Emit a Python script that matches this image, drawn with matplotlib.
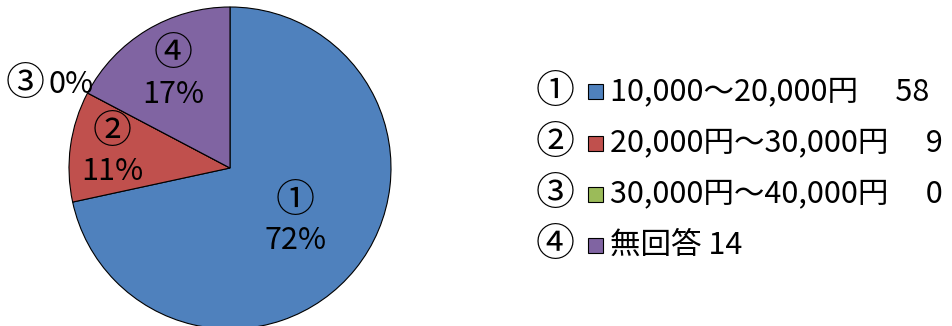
import numpy as np
import matplotlib
matplotlib.use("Agg")
import matplotlib.pyplot as plt
from matplotlib.patches import Rectangle

plt.rcParams['font.family'] = ['Noto Sans CJK JP', 'DejaVu Sans']

# 回答データ
marks = ["①", "②", "③", "④"]
categories = ["10,000～20,000円", "20,000円～30,000円", "30,000円～40,000円", "無回答"]
counts = [58, 9, 0, 14]
gaps = ["\u3000 ", "\u3000 ", "\u3000 ", " "]
colors = ["#4F81BD", "#C0504D", "#9BBB59", "#8064A2"]

# ラベルを置く半径 (半径比) と角度の補正 (度)
label_dist = [0.52, 0.74, 1.24, 0.68]
label_shift = [0, 0, 3, 0]

W, H = 953, 326
FS = 22        # 本文の文字サイズ
FS_MARK = 28   # 丸数字は大きめに

fig = plt.figure(figsize=(W / 100, H / 100), dpi=100)

# 円の中心 (230, 168) px, 半径 161 px
cx, cy, r = 230, 168, 161
ax = fig.add_axes([(cx - r) / W, (H - cy - r) / H, 2 * r / W, 2 * r / H])
wedges, _ = ax.pie(counts, colors=colors, startangle=90, counterclock=False,
                   radius=1.0, wedgeprops=dict(edgecolor="black", linewidth=0.8))
ax.set_xlim(-1, 1)
ax.set_ylim(-1, 1)
ax.set_aspect("equal")
ax.axis("off")

total = sum(counts)
half = 20 / r  # 2行ラベルの行間の半分 (データ座標)
for w, m, c, d, s in zip(wedges, marks, counts, label_dist, label_shift):
    ang = np.deg2rad((w.theta1 + w.theta2) / 2 + s)
    x, y = d * np.cos(ang), d * np.sin(ang)
    pct = f"{round(100 * c / total)}%"
    if c == 0:
        # 0% のものは円の外に1行で
        ax.text(x - 4 / r, y, m, ha="right", va="center", fontsize=FS_MARK, clip_on=False)
        ax.text(x, y, pct, ha="left", va="center", fontsize=FS, clip_on=False)
    else:
        ax.text(x, y + half, m, ha="center", va="center", fontsize=FS_MARK)
        ax.text(x, y - half, pct, ha="center", va="center", fontsize=FS)

# 凡例
row_y = [92, 143, 194, 245]
for i, (m, cat, c, g) in enumerate(zip(marks, categories, counts, gaps)):
    y = 1 - row_y[i] / H
    fig.text(555 / W, y, m, ha="center", va="center", fontsize=FS_MARK)
    fig.patches.append(Rectangle((588 / W, y - 7.5 / H), 15 / W, 15 / H,
                                 transform=fig.transFigure, facecolor=colors[i],
                                 edgecolor="black", linewidth=0.8))
    fig.text(610 / W, y, f"{cat}{g}{c}", ha="left", va="center", fontsize=FS)

fig.savefig("out.png", dpi=100)
